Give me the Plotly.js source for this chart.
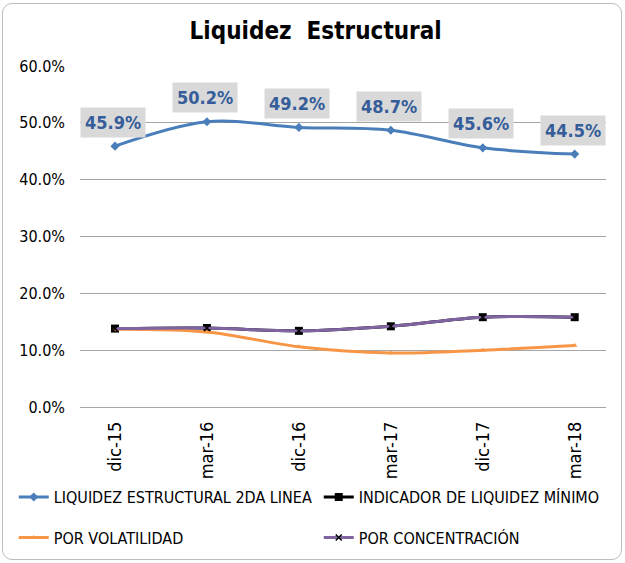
<!DOCTYPE html>
<html>
<head>
<meta charset="utf-8">
<script src="https://cdn.plot.ly/plotly-3.0.1.min.js"></script>
<style>
  body { margin: 0; background: #fff; }
  #chart { width: 625px; height: 563px; }
  #frame {
    position: absolute; left: 2px; top: 3px; width: 618px; height: 555px;
    border: 1px solid #bdbdbd; border-radius: 10px; pointer-events: none;
  }
</style>
</head>
<body>
<div id="chart"></div>
<div id="frame"></div>
<script>
// Liquidez estructural
const periods = ["dic-15", "mar-16", "dic-16", "mar-17", "dic-17", "mar-18"];

const liquidezEstructural = [0.459, 0.502, 0.492, 0.487, 0.456, 0.445];
const indicadorMinimo = [0.138, 0.139, 0.134, 0.142, 0.158, 0.158];
const porVolatilidad = [0.137, 0.132, 0.106, 0.095, 0.100, 0.108];
const porConcentracion = [0.138, 0.139, 0.134, 0.142, 0.158, 0.158];

const seriesNames = [
  "LIQUIDEZ ESTRUCTURAL 2DA LINEA",
  "INDICADOR DE LIQUIDEZ MÍNIMO",
  "POR VOLATILIDAD",
  "POR CONCENTRACIÓN",
];

const FONT = "Tahoma, 'DejaVu Sans Condensed', 'DejaVu Sans', sans-serif";

const traces = [
  {
    x: periods, y: liquidezEstructural, name: seriesNames[0], legend: "legend",
    type: "scatter", mode: "lines+markers", showlegend: true,
    line: { color: "#4a7ebb", width: 3, shape: "spline" },
    marker: { symbol: "diamond", size: 7, color: "#4a7ebb" },
  },
  {
    x: periods, y: indicadorMinimo, name: seriesNames[1], legend: "legend2",
    type: "scatter", mode: "lines+markers", showlegend: true,
    line: { color: "#000000", width: 3, shape: "spline" },
    marker: { symbol: "square", size: 8, color: "#000000" },
  },
  {
    x: periods, y: porVolatilidad, name: seriesNames[2], legend: "legend3",
    type: "scatter", mode: "lines+markers", showlegend: true,
    line: { color: "#f79646", width: 3, shape: "spline" },
    marker: { symbol: "triangle-up", size: 5, color: "#f79646" },
  },
  {
    x: periods, y: porConcentracion, name: seriesNames[3], legend: "legend4",
    type: "scatter", mode: "lines+markers", showlegend: true,
    line: { color: "#8064a2", width: 3, shape: "spline" },
    marker: { symbol: "x-thin", size: 6, line: { color: "#000", width: 1.5 } },
  },
];

// gray boxed data labels above the structural line
const annotations = periods.map((p, i) => ({
  x: p,
  y: liquidezEstructural[i],
  text: (liquidezEstructural[i] * 100).toFixed(1) + "%",
  showarrow: false,
  yshift: 24,
  xshift: -2,
  bgcolor: "#d9d9d9",
  borderpad: 4,
  font: { family: FONT, size: 18, color: "#355d99", weight: "bold" },
}));

// one legend box per entry so the 2x2 grid matches the reference
function legendAt(x, y) {
  return {
    visible: true,
    orientation: "h",
    xref: "container",
    yref: "container",
    x: x,
    y: y,
    xanchor: "left",
    yanchor: "middle",
    itemwidth: 30,
    font: { family: FONT, size: 16, color: "#000" },
    bgcolor: "rgba(0,0,0,0)",
  };
}

Plotly.newPlot("chart", traces, {
  width: 625,
  height: 563,
  showlegend: true,
  margin: { l: 80, r: 19, t: 66, b: 156, autoexpand: false },
  paper_bgcolor: "#fff",
  plot_bgcolor: "#fff",
  font: { family: FONT, size: 14, color: "#000" },
  title: {
    text: "<b>Liquidez  Estructural</b>",
    x: 0.505, xanchor: "center", y: 0.945, yanchor: "middle",
    font: { family: FONT, size: 24, color: "#000" },
  },
  xaxis: {
    type: "category",
    tickangle: -90,
    showgrid: false,
    showline: false,
    ticks: "",
    ticklabelstandoff: 10,
    tickfont: { family: FONT, size: 18 },
  },
  yaxis: {
    range: [0, 0.6],
    dtick: 0.1,
    tickformat: ".1%",
    showgrid: true,
    gridcolor: "#a6a6a6",
    gridwidth: 1,
    zeroline: true,
    zerolinecolor: "#a6a6a6",
    zerolinewidth: 1,
    showline: false,
    ticks: "",
    ticklabelstandoff: 14,
    tickfont: { family: FONT, size: 16 },
    fixedrange: true,
  },
  annotations: annotations,
  legend: legendAt(0.022, 0.117),
  legend2: legendAt(0.51, 0.117),
  legend3: legendAt(0.022, 0.045),
  legend4: legendAt(0.51, 0.045),
}, { displayModeBar: false, staticPlot: true });
</script>
</body>
</html>
